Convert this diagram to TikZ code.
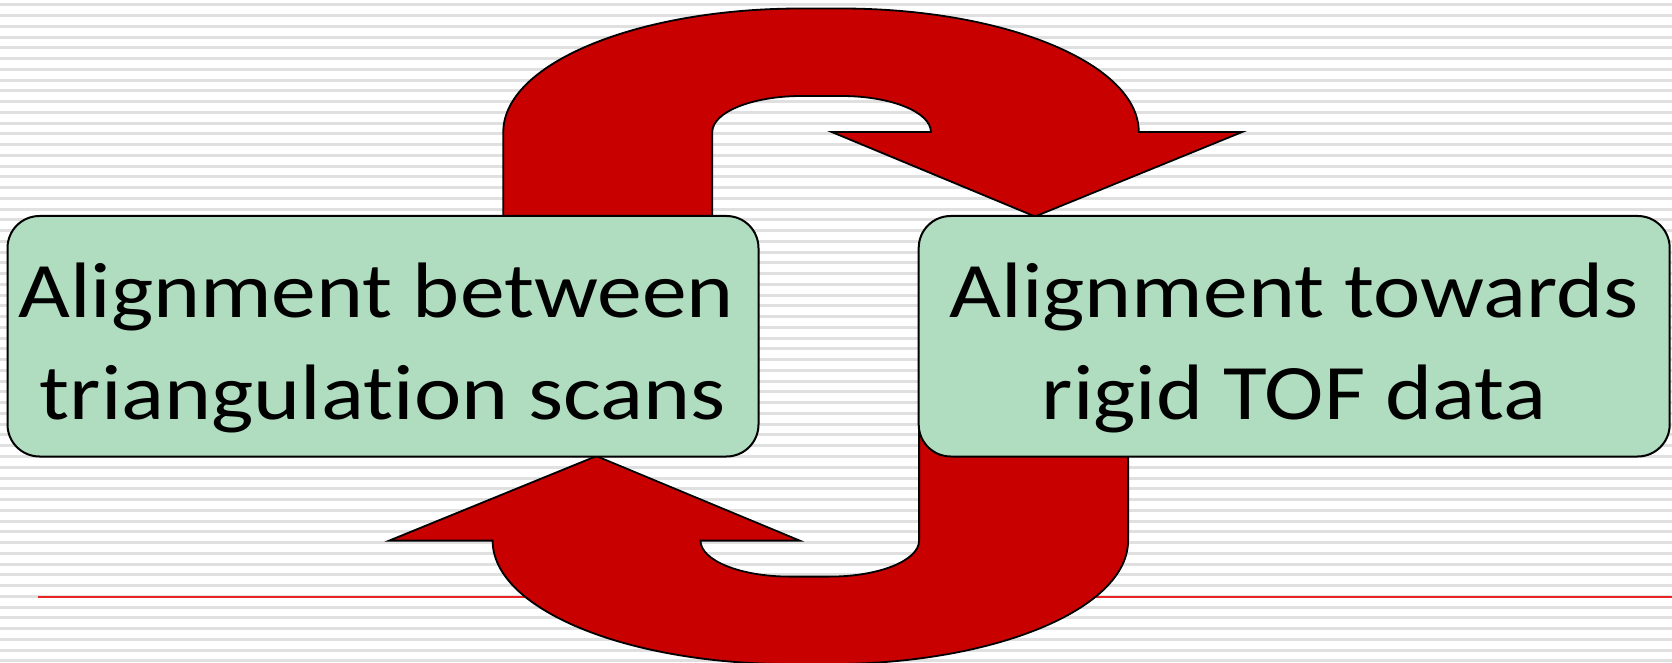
\documentclass[tikz,border=0pt]{standalone}
\usepackage{fontspec}
\newfontfamily\boxfont[FakeStretch=1.14, Ligatures=NoCommon]{Carlito}
\definecolor{arrowred}{RGB}{200,0,0}
\definecolor{boxgreen}{RGB}{176,220,192}
\definecolor{stripegray}{RGB}{224,224,224}
\definecolor{rulered}{RGB}{232,36,36}

\begin{document}
\begin{tikzpicture}[x=0.5pt,y=-0.5pt,
  stepbox/.style={draw=black, line width=1pt, fill=boxgreen, rounded corners=16pt,
    minimum width=375.5pt, minimum height=120.25pt, inner sep=0pt},
  boxtext/.style={font=\boxfont\fontsize{39.3pt}{51pt}\selectfont, align=center, inner sep=0pt},
  uturn/.style={draw=black, line width=0.9pt, fill=arrowred, line join=miter},
  % one U-turn arrow: left shaft rising, arching over, arrowhead pointing down
  uturnshape/.style={insert path={
    (503.3,400) -- (503.3,132)
    .. controls (503.3,63.8) and (636.6,8.5) .. (801.05,8.5) -- (841.05,8.5)
    .. controls (1005.5,8.5) and (1138.8,63.8) .. (1138.8,132)
    -- (1242.2,132) -- (1035,216.5) -- (831.7,132) -- (930.9,132)
    .. controls (930.9,112.1) and (890.9,96) .. (841.6,96) -- (801.6,96)
    .. controls (752.3,96) and (712.3,112.1) .. (712.3,132)
    -- (712.3,400) -- cycle}}]

% page and striped background
\fill[white] (0,0) rectangle (1672,663);
\useasboundingbox (0,0) rectangle (1672,663);
\foreach \k in {0,...,61}
  \draw[stripegray, line width=1.5pt] (0,{5+10.75*\k}) -- (1672,{5+10.75*\k});
\draw[rulered, line width=1pt] (38,597.3) -- (1672,597.3);

% the two cycle arrows (second one is the first turned half a circle)
\path[uturn, uturnshape];
\begin{scope}[rotate around={180:(815.7,336.3)}]
  \path[uturn, uturnshape];
\end{scope}

% the two steps
\node[stepbox] (scans) at (383,336.25) {};
\node[stepbox] (tof) at (1294.2,336.25) {};
\node[boxtext] (scans-text) at (383,348) {Alignment between\hspace*{7pt}\\triangulation scans};
\node[boxtext] (tof-text) at (1294.2,348) {Alignment towards\\rigid TOF data};
\end{tikzpicture}
\end{document}
